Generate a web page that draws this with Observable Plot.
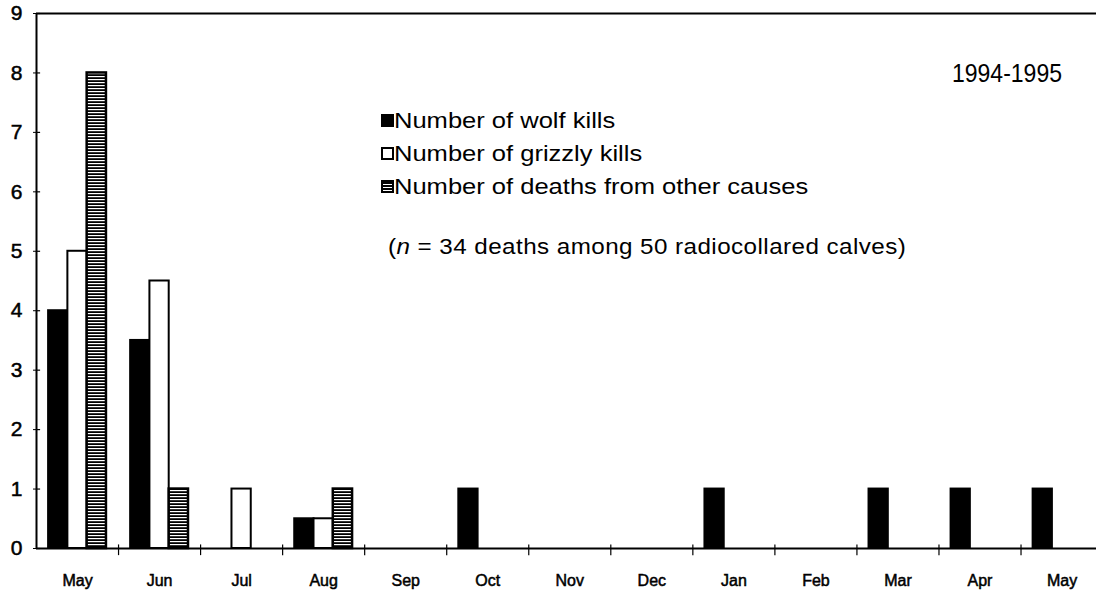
<!DOCTYPE html>
<html>
<head>
<meta charset="utf-8">
<script src="https://cdn.jsdelivr.net/npm/d3@7"></script>
<script src="https://cdn.jsdelivr.net/npm/@observablehq/plot@0.6"></script>
<style>
  html, body { margin: 0; padding: 0; background: #fff; }
  #wrap { position: relative; width: 1096px; height: 599px; font-family: "Liberation Sans", Arial, sans-serif; color: #000; }
  .lg { position: absolute; font-size: 22px; white-space: nowrap; line-height: 1; transform: scaleX(1.16); transform-origin: left center; }
  .sw { position: absolute; width: 9px; height: 9px; border: 2px solid #000; box-sizing: content-box; }
  .note { position: absolute; font-size: 22px; white-space: nowrap; line-height: 1; letter-spacing: 0.4px; transform: scaleX(1.1); transform-origin: left center; }
  .period { position: absolute; font-size: 25px; white-space: nowrap; line-height: 1; transform: scaleX(0.92); transform-origin: left center; }
</style>
</head>
<body>
<svg width="0" height="0" style="position:absolute">
  <defs>
    <pattern id="stripes" patternUnits="userSpaceOnUse" width="6" height="3">
      <rect width="6" height="3" fill="#000"></rect>
      <rect y="1" width="6" height="1.2" fill="#fff"></rect>
    </pattern>
  </defs>
</svg>
<div id="wrap"></div>
<script>
// ---- data ----
const months = ["May", "Jun", "Jul", "Aug", "Sep", "Oct", "Nov", "Dec", "Jan", "Feb", "Mar", "Apr", "May"];
const wolfKills    = [4, 3.5, 0, 0.5, 0, 1, 0, 0, 1, 0, 1, 1, 1];
const grizzlyKills = [5, 4.5, 1, 0.5, 0, 0, 0, 0, 0, 0, 0, 0, 0];
const otherDeaths  = [8, 1, 0, 1, 0, 0, 0, 0, 0, 0, 0, 0, 0];
const seriesNames = ["Number of wolf kills", "Number of grizzly kills", "Number of deaths from other causes"];
const yTicks = [0, 1, 2, 3, 4, 5, 6, 7, 8, 9];
const titleText = "1994-1995";
const noteText = "= 34 deaths among 50 radiocollared calves)";

// ---- table ----
const seriesValues = [wolfKills, grizzlyKills, otherDeaths];
const fills = ["#000", "#fff", "url(#stripes)"];
const bw = 0.235; // bar width in month units
const table = [];
months.forEach((m, i) => {
  seriesValues.forEach((vals, k) => {
    if (vals[i] > 0) table.push({i, k, v: vals[i], x1: i - 1.5 * bw + k * bw, x2: i - 0.5 * bw + k * bw});
  });
});
const monthIdx = months.map((_, i) => i);
const boundaries = months.slice(1).map((_, i) => i + 0.5);

const plot = Plot.plot({
  width: 1096,
  height: 599,
  marginLeft: 36,
  marginRight: 0,
  marginTop: 13,
  marginBottom: 51,
  style: {fontFamily: '"Liberation Sans", Arial, sans-serif', fontSize: "15px", background: "white", color: "black"},
  x: {domain: [-0.5, 12.42], ticks: monthIdx, tickFormat: i => months[i], tickSize: 0, tickPadding: 26, label: null},
  y: {domain: [0, 9], ticks: yTicks, tickSize: 3, tickPadding: 11, label: null},
  marks: [
    Plot.rectY(table, {x1: "x1", x2: "x2", y: "v", fill: d => fills[d.k], stroke: "#000", strokeWidth: d => d.k === 2 ? 2.5 : 2}),
    Plot.ruleY([0, 9], {stroke: "#000", strokeWidth: 2.2}),
    Plot.ruleX([-0.5], {y1: 0, y2: 9, stroke: "#000", strokeWidth: 2}),
    Plot.ruleY(yTicks, {x1: -0.5, x2: -0.45, stroke: "#000", strokeWidth: 1.2}),
    Plot.ruleX(boundaries, {y1: -0.12, y2: 0.06, stroke: "#000", strokeWidth: 1.2})
  ]
});
d3.select(plot).selectAll('g[aria-label^="x-axis"]').attr("font-size", 16);
d3.select(plot).selectAll('g[aria-label^="x-axis"] text')
  .style("font-size", "16px").attr("stroke", "#000").attr("stroke-width", 0.5);
d3.select(plot).selectAll('g[aria-label^="y-axis"]').attr("font-size", 21);
d3.select(plot).selectAll('g[aria-label^="y-axis"] text')
  .style("font-size", "21px").attr("stroke", "#000").attr("stroke-width", 0.5);
d3.select(plot).selectAll('g[aria-label^="y-axis"] line').attr("stroke-width", 1.2);

const wrap = document.getElementById("wrap");
wrap.appendChild(plot);

// ---- in-plot legend and notes (HTML text) ----
const legendTops = [110, 143, 176];
seriesNames.forEach((name, k) => {
  const sw = document.createElement("div");
  sw.className = "sw";
  sw.style.left = "381px";
  sw.style.top = (legendTops[k] + 4) + "px";
  if (k === 0) sw.style.background = "#000";
  else if (k === 1) sw.style.background = "#fff";
  else sw.style.background = "repeating-linear-gradient(to bottom, #000 0px, #000 2px, #fff 2px, #fff 3px)";
  wrap.appendChild(sw);
  const t = document.createElement("div");
  t.className = "lg";
  t.style.left = "394px";
  t.style.top = legendTops[k] + "px";
  t.textContent = name;
  wrap.appendChild(t);
});
const note = document.createElement("div");
note.className = "note";
note.style.left = "388px";
note.style.top = "236px";
note.innerHTML = "(<i>n</i> " + noteText;
wrap.appendChild(note);
const per = document.createElement("div");
per.className = "period";
per.style.left = "952px";
per.style.top = "61px";
per.textContent = titleText;
wrap.appendChild(per);
</script>
</body>
</html>
